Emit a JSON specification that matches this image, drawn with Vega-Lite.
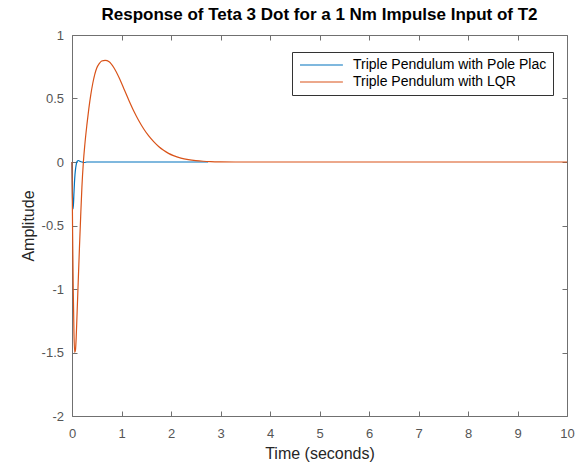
{
  "$schema": "https://vega.github.io/schema/vega-lite/v6.json",
  "width": 495,
  "height": 381,
  "autosize": {"type": "none"},
  "padding": {"left": 72, "top": 35, "right": 15, "bottom": 48},
  "background": "white",
  "title": {"text": "Response of Teta 3 Dot for a 1 Nm Impulse Input of T2", "fontSize": 17, "fontWeight": "bold", "color": "#000000", "offset": 5, "anchor": "middle"},
  "config": {"view": {"stroke": null}, "font": "Liberation Sans"},
  "data": {"values": [
    {"series": "Triple Pendulum with Pole Plac", "t": 0, "amp": 0},
    {"series": "Triple Pendulum with Pole Plac", "t": 0.01, "amp": -0.28},
    {"series": "Triple Pendulum with Pole Plac", "t": 0.02, "amp": -0.37},
    {"series": "Triple Pendulum with Pole Plac", "t": 0.03, "amp": -0.33},
    {"series": "Triple Pendulum with Pole Plac", "t": 0.04, "amp": -0.24},
    {"series": "Triple Pendulum with Pole Plac", "t": 0.05, "amp": -0.16},
    {"series": "Triple Pendulum with Pole Plac", "t": 0.06, "amp": -0.1},
    {"series": "Triple Pendulum with Pole Plac", "t": 0.075, "amp": -0.045},
    {"series": "Triple Pendulum with Pole Plac", "t": 0.09, "amp": -0.01},
    {"series": "Triple Pendulum with Pole Plac", "t": 0.11, "amp": 0.008},
    {"series": "Triple Pendulum with Pole Plac", "t": 0.13, "amp": 0.012},
    {"series": "Triple Pendulum with Pole Plac", "t": 0.16, "amp": 0.006},
    {"series": "Triple Pendulum with Pole Plac", "t": 0.2, "amp": 0},
    {"series": "Triple Pendulum with Pole Plac", "t": 0.25, "amp": -0.004},
    {"series": "Triple Pendulum with Pole Plac", "t": 0.3, "amp": 0},
    {"series": "Triple Pendulum with Pole Plac", "t": 2.75, "amp": 0},
    {"series": "Triple Pendulum with LQR", "t": 0, "amp": 0},
    {"series": "Triple Pendulum with LQR", "t": 0.012, "amp": -0.55},
    {"series": "Triple Pendulum with LQR", "t": 0.025, "amp": -1.0},
    {"series": "Triple Pendulum with LQR", "t": 0.04, "amp": -1.35},
    {"series": "Triple Pendulum with LQR", "t": 0.055, "amp": -1.5},
    {"series": "Triple Pendulum with LQR", "t": 0.07, "amp": -1.48},
    {"series": "Triple Pendulum with LQR", "t": 0.085, "amp": -1.38},
    {"series": "Triple Pendulum with LQR", "t": 0.1, "amp": -1.22},
    {"series": "Triple Pendulum with LQR", "t": 0.125, "amp": -0.95},
    {"series": "Triple Pendulum with LQR", "t": 0.15, "amp": -0.68},
    {"series": "Triple Pendulum with LQR", "t": 0.175, "amp": -0.43},
    {"series": "Triple Pendulum with LQR", "t": 0.2, "amp": -0.2},
    {"series": "Triple Pendulum with LQR", "t": 0.23, "amp": 0.0},
    {"series": "Triple Pendulum with LQR", "t": 0.26, "amp": 0.14},
    {"series": "Triple Pendulum with LQR", "t": 0.3, "amp": 0.29},
    {"series": "Triple Pendulum with LQR", "t": 0.34, "amp": 0.42},
    {"series": "Triple Pendulum with LQR", "t": 0.38, "amp": 0.53},
    {"series": "Triple Pendulum with LQR", "t": 0.42, "amp": 0.62},
    {"series": "Triple Pendulum with LQR", "t": 0.46, "amp": 0.69},
    {"series": "Triple Pendulum with LQR", "t": 0.5, "amp": 0.74},
    {"series": "Triple Pendulum with LQR", "t": 0.55, "amp": 0.775},
    {"series": "Triple Pendulum with LQR", "t": 0.6, "amp": 0.795},
    {"series": "Triple Pendulum with LQR", "t": 0.67, "amp": 0.8},
    {"series": "Triple Pendulum with LQR", "t": 0.75, "amp": 0.79},
    {"series": "Triple Pendulum with LQR", "t": 0.85, "amp": 0.74},
    {"series": "Triple Pendulum with LQR", "t": 0.95, "amp": 0.665},
    {"series": "Triple Pendulum with LQR", "t": 1.05, "amp": 0.575},
    {"series": "Triple Pendulum with LQR", "t": 1.15, "amp": 0.485},
    {"series": "Triple Pendulum with LQR", "t": 1.25, "amp": 0.4},
    {"series": "Triple Pendulum with LQR", "t": 1.35, "amp": 0.325},
    {"series": "Triple Pendulum with LQR", "t": 1.45, "amp": 0.26},
    {"series": "Triple Pendulum with LQR", "t": 1.55, "amp": 0.205},
    {"series": "Triple Pendulum with LQR", "t": 1.65, "amp": 0.16},
    {"series": "Triple Pendulum with LQR", "t": 1.75, "amp": 0.122},
    {"series": "Triple Pendulum with LQR", "t": 1.85, "amp": 0.092},
    {"series": "Triple Pendulum with LQR", "t": 1.95, "amp": 0.068},
    {"series": "Triple Pendulum with LQR", "t": 2.05, "amp": 0.05},
    {"series": "Triple Pendulum with LQR", "t": 2.2, "amp": 0.031},
    {"series": "Triple Pendulum with LQR", "t": 2.35, "amp": 0.019},
    {"series": "Triple Pendulum with LQR", "t": 2.5, "amp": 0.011},
    {"series": "Triple Pendulum with LQR", "t": 2.65, "amp": 0.006},
    {"series": "Triple Pendulum with LQR", "t": 2.8, "amp": 0.003},
    {"series": "Triple Pendulum with LQR", "t": 3.0, "amp": 0.001},
    {"series": "Triple Pendulum with LQR", "t": 3.3, "amp": 0},
    {"series": "Triple Pendulum with LQR", "t": 10, "amp": 0}
  ]},
  "layer": [
    {
      "mark": {"type": "line", "strokeWidth": 1.2, "interpolate": "monotone"},
      "encoding": {
        "x": {"field": "t", "type": "quantitative", "scale": {"domain": [0, 10], "nice": false, "zero": false},
          "axis": {"orient": "bottom", "values": [0,1,2,3,4,5,6,7,8,9,10], "title": "Time (seconds)", "titleFontSize": 16, "titleFontWeight": "normal", "titleColor": "#262626", "titlePadding": 5, "labelFontSize": 13, "labelColor": "#555555", "labelPadding": 16, "labelFlush": false, "labelOverlap": false, "tickSize": -5, "tickColor": "#707070", "domainColor": "#707070", "grid": false}},
        "y": {"field": "amp", "type": "quantitative", "scale": {"domain": [-2, 1], "nice": false, "zero": false},
          "axis": {"orient": "left", "values": [-2,-1.5,-1,-0.5,0,0.5,1], "labelExpr": "'' + datum.value", "title": "Amplitude", "titleFontSize": 16, "titleFontWeight": "normal", "titleColor": "#262626", "titlePadding": 5, "labelFontSize": 13, "labelColor": "#555555", "labelPadding": 13.5, "labelFlush": false, "labelOverlap": false, "tickSize": -5, "tickColor": "#707070", "domainColor": "#707070", "grid": false}},
        "color": {"field": "series", "type": "nominal",
          "scale": {"domain": ["Triple Pendulum with Pole Plac", "Triple Pendulum with LQR"], "range": ["#0072BD", "#D95319"]},
          "legend": {"orient": "none", "legendX": 220, "legendY": 17, "title": null, "padding": 6, "strokeColor": "#333333", "fillColor": "white", "cornerRadius": 0, "labelFontSize": 14, "labelColor": "#000000", "labelLimit": 400, "symbolType": "M-3.9,0H3.9", "symbolSize": 121, "symbolStrokeWidth": 1.2, "symbolOffset": 16.45, "labelOffset": 24.5, "rowPadding": 3}}
      }
    },
    {
      "mark": {"type": "line", "strokeOpacity": 0},
      "encoding": {
        "x": {"field": "t", "type": "quantitative", "axis": {"orient": "top", "values": [0,1,2,3,4,5,6,7,8,9,10], "labels": false, "title": null, "tickSize": -5, "tickColor": "#707070", "domainColor": "#707070", "grid": false}},
        "y": {"field": "amp", "type": "quantitative", "axis": {"orient": "right", "values": [-2,-1.5,-1,-0.5,0,0.5,1], "labels": false, "title": null, "tickSize": -5, "tickColor": "#707070", "domainColor": "#707070", "grid": false}},
        "detail": {"field": "series"}
      }
    }
  ],
  "resolve": {"axis": {"x": "independent", "y": "independent"}}
}
